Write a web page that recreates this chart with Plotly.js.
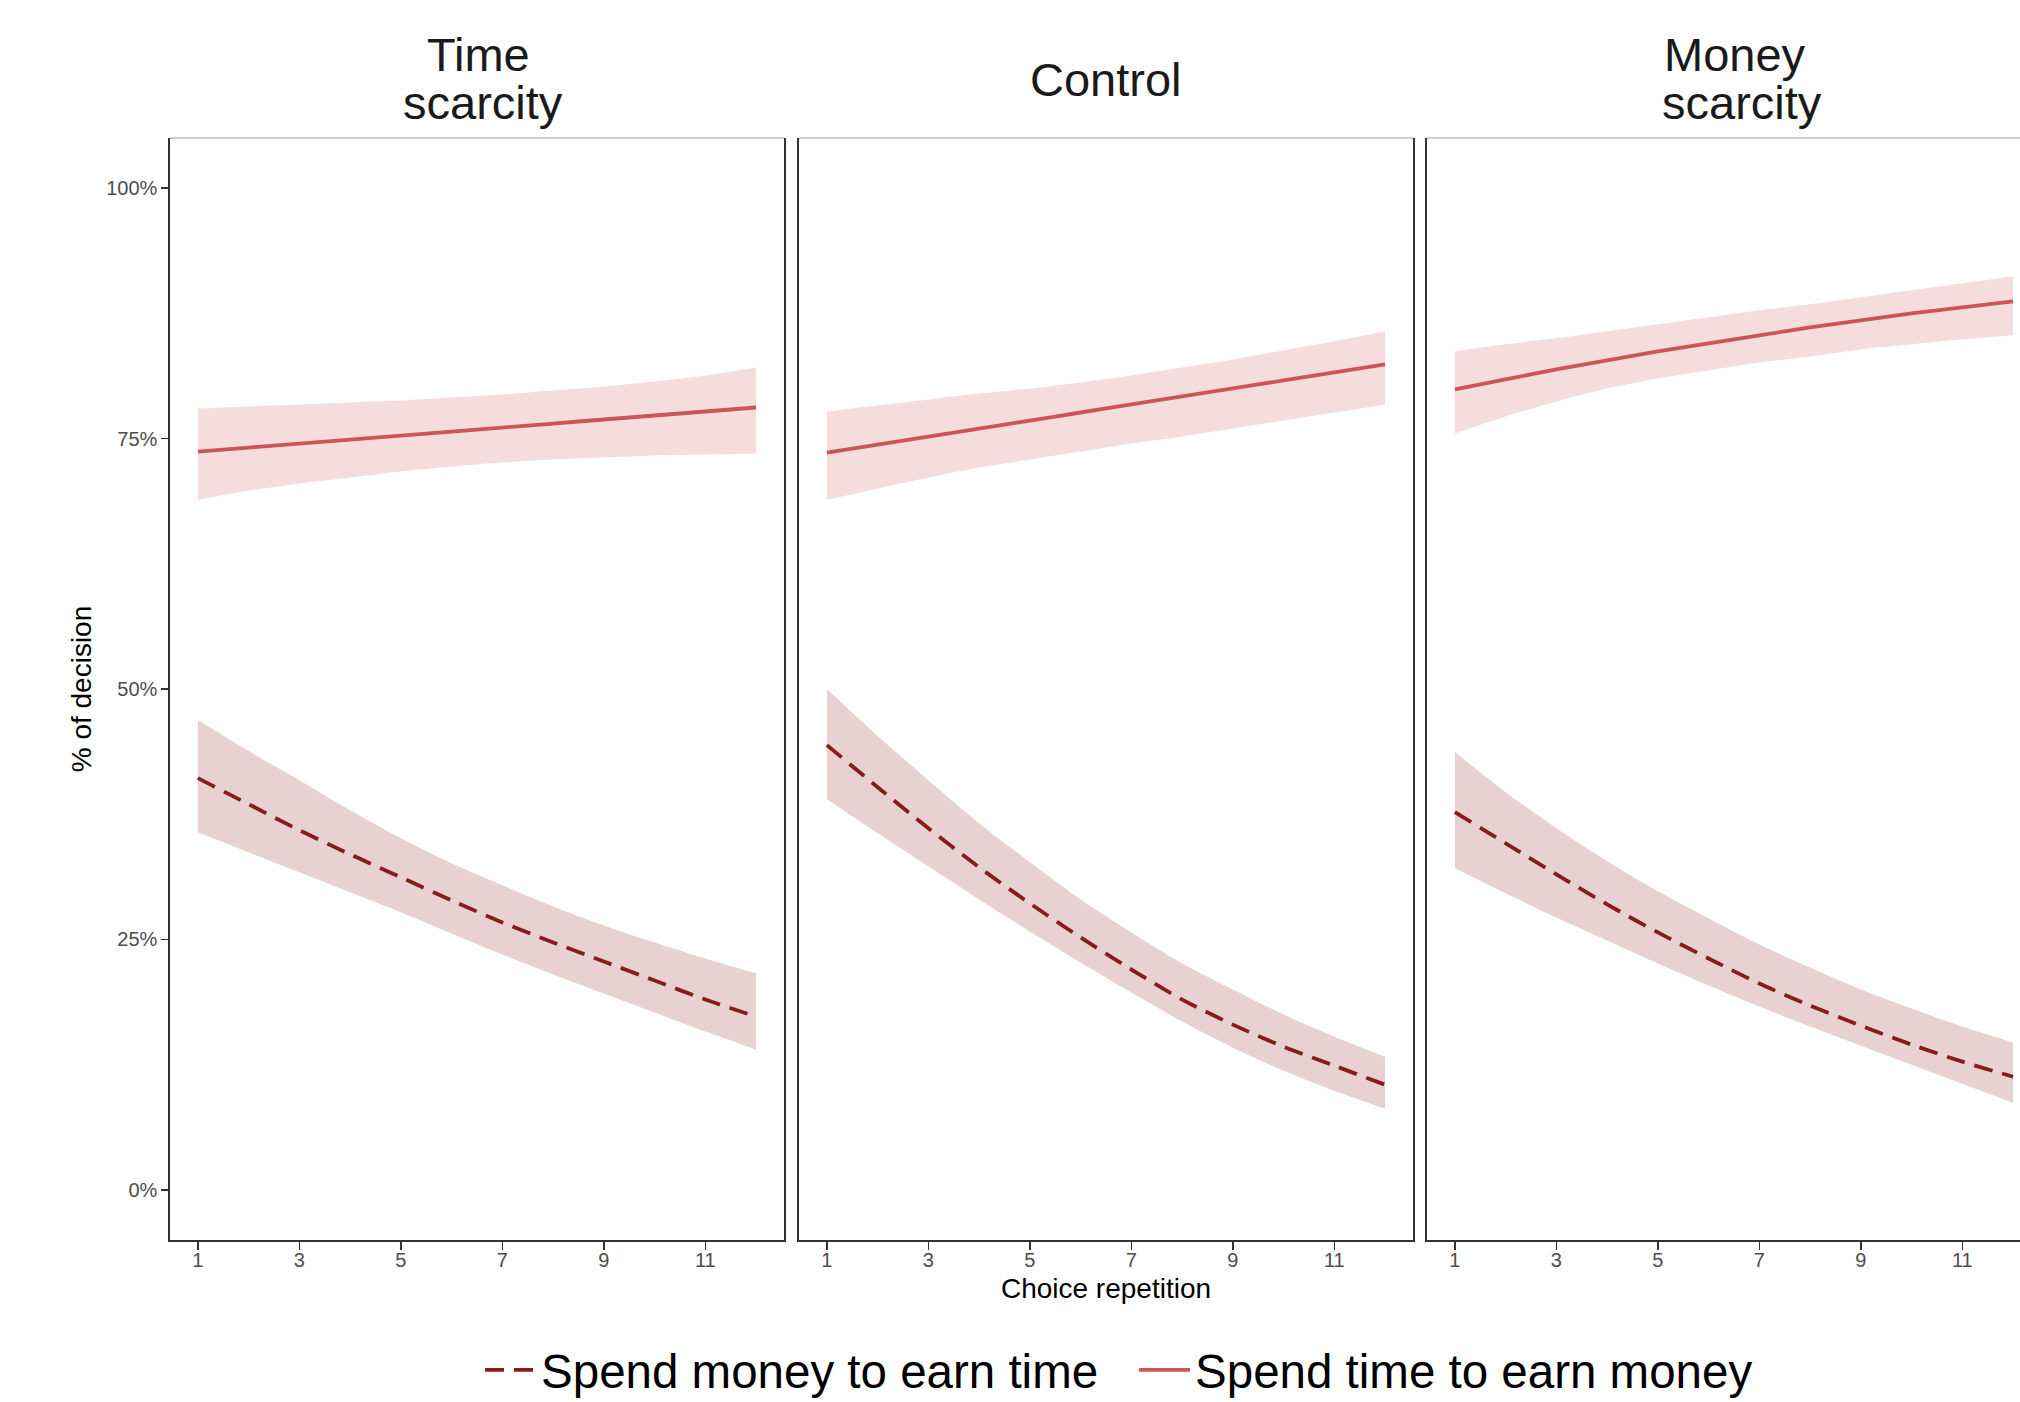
<!DOCTYPE html>
<html>
<head>
<meta charset="utf-8">
<script src="https://cdn.plot.ly/plotly-3.0.1.min.js"></script>
<style>
html,body{margin:0;padding:0;background:#fff;overflow:hidden;}
#chart{width:2020px;height:1402px;}
</style>
</head>
<body>
<div id="chart"></div>
<script>
// ---- data ----
const repetition = [1,2,3,4,5,6,7,8,9,10,11,12];
const panelTitles = [["Time","scarcity"],["Control"],["Money","scarcity"]];
const seriesNames = ["Spend money to earn time","Spend time to earn money"];
const xTickVals = [1,3,5,7,9,11];
const yTickVals = [0,0.25,0.5,0.75,1];
const xTitle = "Choice repetition";
const yTitle = "% of decision";

// Time scarcity
const timeTimeEst  = [0.411,0.385,0.359,0.335,0.312,0.289,0.267,0.247,0.228,0.209,0.190,0.173];
const timeTimeHi   = [0.469,0.438,0.409,0.379,0.351,0.326,0.304,0.283,0.264,0.247,0.231,0.216];
const timeTimeLo   = [0.357,0.337,0.317,0.297,0.277,0.256,0.235,0.215,0.196,0.177,0.158,0.140];
const timeMoneyEst = [0.737,0.741,0.745,0.749,0.753,0.757,0.761,0.765,0.769,0.773,0.777,0.781];
const timeMoneyHi  = [0.780,0.782,0.784,0.786,0.788,0.791,0.794,0.798,0.802,0.807,0.813,0.821];
const timeMoneyLo  = [0.689,0.698,0.705,0.711,0.717,0.722,0.726,0.729,0.731,0.733,0.734,0.735];

// Control
const ctrlTimeEst  = [0.444,0.402,0.361,0.322,0.286,0.252,0.220,0.190,0.165,0.143,0.124,0.105];
const ctrlTimeHi   = [0.500,0.453,0.409,0.366,0.327,0.290,0.257,0.226,0.200,0.175,0.153,0.133];
const ctrlTimeLo   = [0.390,0.356,0.323,0.290,0.258,0.227,0.197,0.168,0.142,0.119,0.099,0.081];
const ctrlMoneyEst = [0.736,0.744,0.752,0.760,0.768,0.776,0.784,0.792,0.800,0.808,0.816,0.824];
const ctrlMoneyHi  = [0.777,0.783,0.789,0.795,0.800,0.806,0.813,0.821,0.829,0.838,0.847,0.857];
const ctrlMoneyLo  = [0.689,0.700,0.711,0.721,0.729,0.737,0.745,0.752,0.760,0.768,0.776,0.784];

// Money scarcity
const moneyTimeEst  = [0.377,0.346,0.315,0.285,0.257,0.231,0.206,0.184,0.164,0.145,0.128,0.113];
const moneyTimeHi   = [0.437,0.397,0.361,0.328,0.298,0.271,0.245,0.222,0.200,0.181,0.163,0.147];
const moneyTimeLo   = [0.321,0.296,0.272,0.249,0.226,0.204,0.183,0.163,0.144,0.125,0.106,0.087];
const moneyMoneyEst = [0.799,0.809,0.819,0.828,0.837,0.845,0.853,0.861,0.868,0.875,0.881,0.887];
const moneyMoneyHi  = [0.837,0.844,0.850,0.857,0.864,0.871,0.878,0.884,0.891,0.898,0.905,0.912];
const moneyMoneyLo  = [0.755,0.772,0.787,0.800,0.810,0.818,0.826,0.832,0.839,0.844,0.849,0.853];

// ---- styling ----
const DARK = '#8B1A1A', LIGHT = '#CD5555';
const DARK_FILL = 'rgba(139,26,26,0.2)', LIGHT_FILL = 'rgba(205,85,85,0.2)';
const FONT = 'Liberation Sans, Arial, Helvetica, sans-serif';

const panels = [
  {xa:'x',  ya:'y',  t:[timeTimeEst,timeTimeHi,timeTimeLo],   m:[timeMoneyEst,timeMoneyHi,timeMoneyLo]},
  {xa:'x2', ya:'y2', t:[ctrlTimeEst,ctrlTimeHi,ctrlTimeLo],   m:[ctrlMoneyEst,ctrlMoneyHi,ctrlMoneyLo]},
  {xa:'x3', ya:'y3', t:[moneyTimeEst,moneyTimeHi,moneyTimeLo], m:[moneyMoneyEst,moneyMoneyHi,moneyMoneyLo]}
];

const traces = [];
panels.forEach((p) => {
  [[p.t, DARK_FILL],[p.m, LIGHT_FILL]].forEach(([s, fc]) => {
    traces.push({
      x: repetition, y: s[1], xaxis: p.xa, yaxis: p.ya, type:'scatter', mode:'lines',
      line:{width:0, shape:'spline', smoothing:0.8}, hoverinfo:'skip', showlegend:false
    });
    traces.push({
      x: repetition, y: s[2], xaxis: p.xa, yaxis: p.ya, type:'scatter', mode:'lines',
      fill:'tonexty', fillcolor: fc, line:{width:0, shape:'spline', smoothing:0.8},
      hoverinfo:'skip', showlegend:false
    });
  });
});
panels.forEach((p, i) => {
  traces.push({
    x: repetition, y: p.t[0], xaxis:p.xa, yaxis:p.ya, type:'scatter', mode:'lines',
    name: seriesNames[0], legendgroup:'a', showlegend: i===0,
    line:{color:DARK, width:3.8, dash:'19px,10px', shape:'spline', smoothing:0.8}
  });
  traces.push({
    x: repetition, y: p.m[0], xaxis:p.xa, yaxis:p.ya, type:'scatter', mode:'lines',
    name: seriesNames[1], legendgroup:'b', showlegend: i===0,
    line:{color:LIGHT, width:3.8, shape:'spline', smoothing:0.8}
  });
});

const xCommon = {
  showline:true, linecolor:'#333333', linewidth:1.6, mirror:false,
  ticks:'outside', ticklen:8, tickwidth:1.6, tickcolor:'#333333',
  tickvals:xTickVals, tickfont:{size:20, color:'#4d4d4d', family:FONT},
  ticklabelstandoff:-7,
  showgrid:false, zeroline:false
};
const yCommon = {
  range:[-0.05,1.05], showline:true, linecolor:'#333333', linewidth:1.6,
  showgrid:false, zeroline:false, tickvals:yTickVals, tickformat:'.0%'
};

const layout = {
  width:2020, height:1402,
  paper_bgcolor:'#ffffff', plot_bgcolor:'#ffffff',
  margin:{l:170, r:0, t:138, b:162, autoexpand:false},
  font:{family:FONT, color:'#000'},
  showlegend:true,
  legend:{orientation:'h', x:0.5211, xanchor:'center', y:-0.118, yanchor:'middle',
          font:{size:47.5, color:'#000', family:FONT}, traceorder:'normal',
          itemwidth:51, entrywidth:588, entrywidthmode:'pixels',
          bgcolor:'rgba(0,0,0,0)'},
  xaxis: Object.assign({}, xCommon, {domain:[0,0.33189], range:[0.45,12.55], anchor:'y'}),
  xaxis2: Object.assign({}, xCommon, {domain:[0.34,0.67189], range:[0.45,12.55], anchor:'y2',
          title:{text:xTitle, font:{size:28, color:'#000', family:FONT}, standoff:9}}),
  xaxis3: Object.assign({}, xCommon, {domain:[0.67946,1], range:[0.45,12.137], anchor:'y3'}),
  yaxis: Object.assign({}, yCommon, {domain:[0,1], anchor:'x', mirror:true,
          ticks:'outside', ticklen:7, tickwidth:1.6, tickcolor:'#333333',
          tickfont:{size:20, color:'#4d4d4d', family:FONT},
          title:{text:yTitle, font:{size:28, color:'#000', family:FONT}, standoff:6}}),
  yaxis2: Object.assign({}, yCommon, {domain:[0,1], anchor:'x2', mirror:true, showticklabels:false, ticks:''}),
  yaxis3: Object.assign({}, yCommon, {domain:[0,1], anchor:'x3', mirror:false, showticklabels:false, ticks:''}),
  shapes: ['', '2', '3'].map(s => ({
    type:'line', xref:'x'+s+' domain', yref:'y'+s+' domain', x0:0, x1:1, y0:1, y1:1,
    line:{color:'#999999', width:1.2}
  })),
  annotations: []
};

// strip title positions (paper x centre of each line, paper y)
const stripX = [[0.1665, 0.1690], [0.5060], [0.8459, 0.8495]];
const stripFont = {size:47, color:'#1a1a1a', family:FONT};
panelTitles.forEach((lines, i) => {
  const ys = lines.length === 2 ? [1.0758, 1.0318] : [1.0531];
  lines.forEach((txt, j) => {
    layout.annotations.push({
      text: txt, xref:'paper', yref:'paper', x: stripX[i][j], y: ys[j],
      xanchor:'center', yanchor:'middle', showarrow:false, font: stripFont
    });
  });
});

Plotly.newPlot('chart', traces, layout, {displayModeBar:false, staticPlot:true});
</script>
</body>
</html>
